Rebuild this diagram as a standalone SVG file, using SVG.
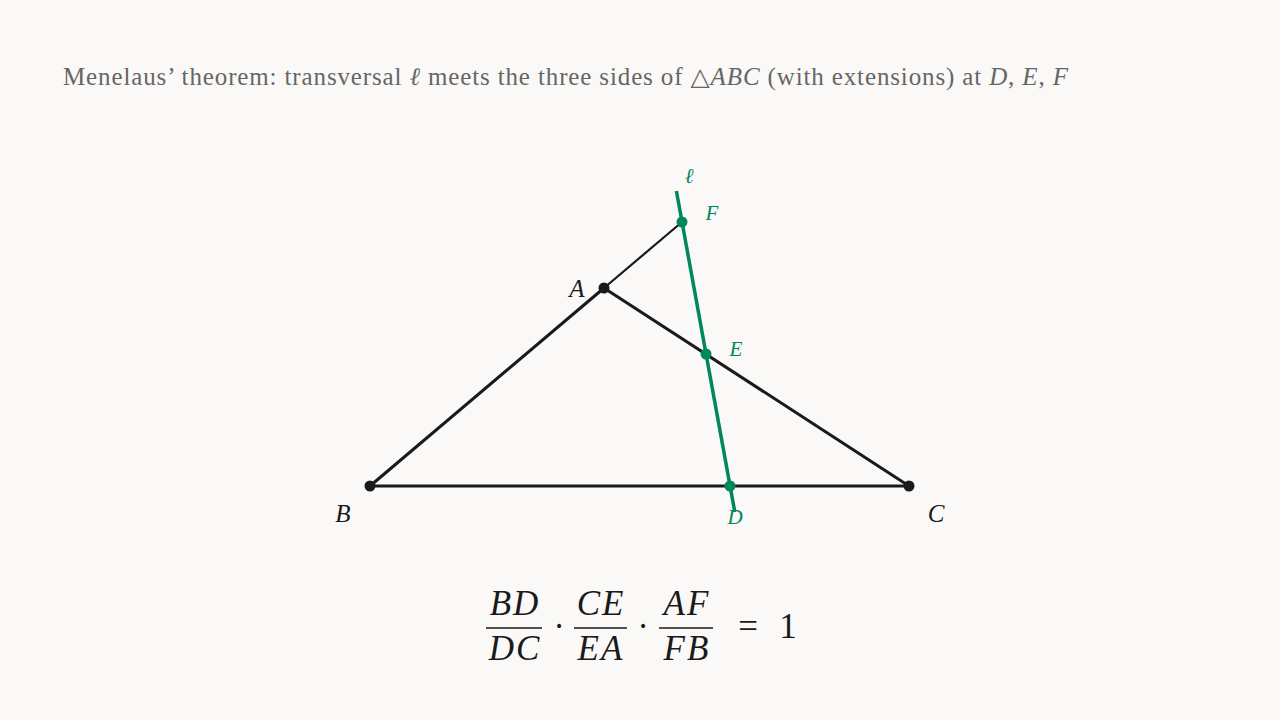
<svg xmlns="http://www.w3.org/2000/svg" width="1280" height="720" viewBox="0 0 1280 720">
<style>
.title{font-family:"Liberation Serif","DejaVu Serif",serif;font-size:25px;fill:#666}
.it{font-style:italic}
.lbl{font-family:"Liberation Serif","DejaVu Serif",serif;font-style:italic;font-size:25px;fill:#1a1a1a}
.glbl{font-family:"Liberation Serif","DejaVu Serif",serif;font-style:italic;font-size:21px;fill:#00875a}
.side{stroke:#1a1a1a;stroke-width:3;fill:none;stroke-linecap:round}
.ext{stroke:#1a1a1a;stroke-width:2.2;fill:none;stroke-linecap:round}
.trans{stroke:#00875a;stroke-width:3.5;fill:none}
.vtx{fill:#1a1a1a}
.gpt{fill:#00875a}
.math{font-family:"Liberation Serif","DejaVu Serif",serif;font-size:35px;fill:#1a1a1a}
.sp{letter-spacing:2px}
.bar{stroke:#1a1a1a;stroke-width:1.6}
</style>
<rect width="1280" height="720" fill="#faf9f7"/>
<text class="title" x="63" y="85" textLength="1005" lengthAdjust="spacing">Menelaus’ theorem: transversal <tspan class="it">ℓ</tspan> meets the three sides of △<tspan class="it">ABC</tspan> (with extensions) at <tspan class="it">D</tspan>, <tspan class="it">E</tspan>, <tspan class="it">F</tspan></text>
<g id="connectors">
<line class="side" x1="370" y1="486" x2="909" y2="486"/>
<line class="side" x1="370" y1="486" x2="604" y2="288"/>
<line class="side" x1="604" y1="288" x2="909" y2="486"/>
<line class="ext" x1="604" y1="288" x2="682" y2="222"/>
<line class="trans" x1="676.4" y1="191" x2="734.8" y2="512"/>
</g>
<g id="A"><circle class="vtx" cx="604" cy="288" r="5.5"/><text class="lbl" x="577" y="297" text-anchor="middle">A</text></g>
<g id="B"><circle class="vtx" cx="370" cy="486" r="5.5"/><text class="lbl" x="343" y="522" text-anchor="middle">B</text></g>
<g id="C"><circle class="vtx" cx="909" cy="486" r="5.5"/><text class="lbl" x="936" y="522" text-anchor="middle">C</text></g>
<g id="D"><circle class="gpt" cx="730" cy="486" r="5.5"/><text class="glbl" x="735" y="524" text-anchor="middle">D</text></g>
<g id="E"><circle class="gpt" cx="706" cy="354" r="5.5"/><text class="glbl" x="736" y="356" text-anchor="middle">E</text></g>
<g id="F"><circle class="gpt" cx="682" cy="222" r="5.5"/><text class="glbl" x="712" y="220" text-anchor="middle">F</text></g>
<g id="ell"><text class="glbl" x="689" y="183" text-anchor="middle">ℓ</text></g>
<g id="formula">
<text class="math it sp" x="515" y="615" text-anchor="middle">BD</text>
<line class="bar" x1="486" y1="628" x2="542" y2="628"/>
<text class="math it sp" x="515" y="660" text-anchor="middle">DC</text>
<text class="math" x="559" y="638" text-anchor="middle">·</text>
<text class="math it sp" x="601" y="615" text-anchor="middle">CE</text>
<line class="bar" x1="574" y1="628" x2="627" y2="628"/>
<text class="math it sp" x="601" y="660" text-anchor="middle">EA</text>
<text class="math" x="643" y="638" text-anchor="middle">·</text>
<text class="math it sp" x="687" y="615" text-anchor="middle">AF</text>
<line class="bar" x1="659" y1="628" x2="713" y2="628"/>
<text class="math it sp" x="687" y="660" text-anchor="middle">FB</text>
<text class="math" x="748" y="638" text-anchor="middle">=</text>
<text class="math" x="788" y="638" text-anchor="middle">1</text>
</g>
</svg>
